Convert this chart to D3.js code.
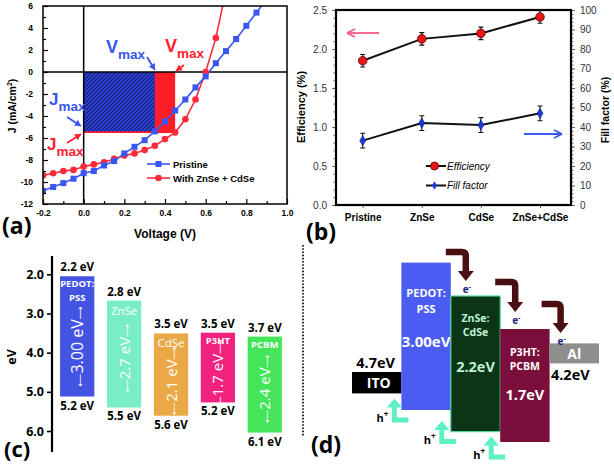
<!DOCTYPE html>
<html><head><meta charset="utf-8">
<script src="https://cdn.jsdelivr.net/npm/d3@7"></script>
<style>body{margin:0;background:#fff}svg{display:block}</style>
</head><body>
<svg id="fig" width="614" height="466"></svg>
<script>
// ---------- Panel (a): J–V curves ----------
const voltsPristine = [-0.2,-0.15,-0.1,-0.05,0,0.05,0.1,0.15,0.2,0.25,0.3,0.35,0.4,0.45,0.5,0.55,0.6,0.65,0.7,0.75,0.8,0.85,0.9];
const jPristine     = [-10.8,-10.45,-10.1,-9.7,-9.2,-9.0,-8.5,-8.1,-7.4,-6.8,-6.2,-5.4,-4.5,-3.5,-2.5,-1.4,-0.4,0.8,1.9,3.0,4.2,5.4,6.6];
const voltsHybrid   = [-0.2,-0.15,-0.1,-0.05,0,0.05,0.1,0.15,0.2,0.25,0.3,0.35,0.4,0.45,0.5,0.55,0.6,0.65,0.7];
const jHybrid       = [-9.4,-9.2,-9.0,-8.9,-8.6,-8.4,-8.2,-7.9,-7.6,-7.4,-7.1,-6.7,-6.1,-5.5,-4.3,-2.5,0.0,3.1,7.4];
const seriesNames   = ["Pristine","With ZnSe + CdSe"];
const vMax = [0.35, 0.45];      // pristine, hybrid
const jMax = [-5.4, -5.55];
const aXTicks = [-0.2,0,0.2,0.4,0.6,0.8,1.0];
const aYTicks = [-12,-10,-8,-6,-4,-2,0,2,4,6];

// ---------- Panel (b): efficiency / fill factor ----------
const devices    = ["Pristine","ZnSe","CdSe","ZnSe+CdSe"];
const efficiency = [1.85,2.13,2.20,2.41];
const effErr     = [0.08,0.08,0.08,0.08];
const fillFactor = [33,42,41,47];
const ffErr      = [3.8,3.8,3.8,3.8];
const bLeftTicks  = [0,0.5,1.0,1.5,2.0,2.5];
const bRightTicks = [0,10,20,30,40,50,60,70,80,90,100];

// ---------- Panel (c): energy levels ----------
const materials   = ["PEDOT:PSS","ZnSe","CdSe","P3HT","PCBM"];
const lumo        = [2.05,2.67,3.51,3.49,3.59];
const homo        = [5.12,5.40,5.61,5.27,6.04];
const lumoLabels  = ["2.2 eV","2.8 eV","3.5 eV","3.5 eV","3.7 eV"];
const homoLabels  = ["5.2 eV","5.5 eV","5.6 eV","5.2 eV","6.1 eV"];
const gapLabels   = ["3.00 eV","2.7 eV","2.1 eV","1.7 eV","2.4 eV"];
const nameLines   = [["PEDOT:","PSS"],["ZnSe"],["CdSe"],["P3HT"],["PCBM"]];
const cTicks      = [2.0,3.0,4.0,5.0,6.0];

// ---------- Panel (d): device band diagram (schematic levels) ----------
const layers      = ["ITO","PEDOT:PSS","ZnSe:CdSe","P3HT:PCBM","Al"];
const layerTop    = [6.1,0.63,2.3,3.95,4.67];
const layerBottom = [7.17,8.0,9.08,9.6,5.67];
const layerNames  = [["ITO"],["PEDOT:","PSS"],["ZnSe:","CdSe"],["P3HT:","PCBM"],["Al"]];
const layerGaps   = ["","3.00eV","2.2eV","1.7eV",""];
const workFns     = ["4.7eV","","","","4.2eV"];
const eArrowStart = [0.1,1.6,2.7];
const eArrowEnd   = [1.55,3.1,4.15];

// ======================================================
const svg = d3.select("#fig");
const ARIAL = "'Liberation Sans', Arial, sans-serif";
const OPEN = "'Open Sans', 'DejaVu Sans', sans-serif";

// ================= Panel (a) =================
(function(){
  const x = d3.scaleLinear().domain([-0.2,1.0]).range([43,287]);
  const y = d3.scaleLinear().domain([-12,6]).range([204,6]);
  const g = svg.append("g");
  const defs = svg.append("defs");
  defs.append("clipPath").attr("id","clipA").append("rect")
    .attr("x",x(-0.2)).attr("y",y(6)).attr("width",x(1)-x(-0.2)).attr("height",y(-12)-y(6));
  const pat = defs.append("pattern").attr("id","hatch").attr("patternUnits","userSpaceOnUse")
    .attr("width",4).attr("height",4);
  pat.append("rect").attr("width",4).attr("height",4).attr("fill","#3048e4");
  pat.append("path").attr("d","M-1,1 l2,-2 M0,4 l4,-4 M3,5 l2,-2").attr("stroke","#141c78").attr("stroke-width",1.3);

  g.append("rect").attr("x",x(0)).attr("y",y(0)).attr("width",x(vMax[1])-x(0)).attr("height",y(jMax[1])-y(0)).attr("fill","#ff1e28");
  g.append("rect").attr("x",x(0)).attr("y",y(0)).attr("width",x(vMax[0])-x(0)).attr("height",y(jMax[0])-y(0)).attr("fill","url(#hatch)");

  g.append("line").attr("x1",x(0)).attr("x2",x(0)).attr("y1",y(6)).attr("y2",y(-12)).attr("stroke","#000").attr("stroke-width",1.5);
  g.append("line").attr("x1",x(-0.2)).attr("x2",x(1)).attr("y1",y(0)).attr("y2",y(0)).attr("stroke","#000").attr("stroke-width",1.5);

  const cg = g.append("g").attr("clip-path","url(#clipA)");
  const line = d3.line().x(d=>x(d[0])).y(d=>y(d[1]));
  const pData = voltsPristine.map((v,i)=>[v,jPristine[i]]);
  const hData = voltsHybrid.map((v,i)=>[v,jHybrid[i]]);
  const blue = "#3a56f0", red = "#ff2a3a";
  cg.append("path").attr("d",line(hData)).attr("fill","none").attr("stroke",red).attr("stroke-width",1.6);
  cg.append("path").attr("d",line(pData)).attr("fill","none").attr("stroke",blue).attr("stroke-width",1.6);
  cg.selectAll(".hc").data(hData).enter().append("circle").attr("cx",d=>x(d[0])).attr("cy",d=>y(d[1])).attr("r",3.3).attr("fill",red);
  cg.selectAll(".pc").data(pData).enter().append("rect").attr("x",d=>x(d[0])-3).attr("y",d=>y(d[1])-3).attr("width",6).attr("height",6).attr("fill",blue);

  g.append("rect").attr("x",x(-0.2)).attr("y",y(6)).attr("width",x(1)-x(-0.2)).attr("height",y(-12)-y(6))
    .attr("fill","none").attr("stroke","#000").attr("stroke-width",1.5);

  const yAx = g.append("g").attr("transform",`translate(${x(-0.2)},0)`)
    .call(d3.axisLeft(y).tickValues(aYTicks).tickSize(-5).tickPadding(10).tickFormat(d3.format("d")));
  const yMin = g.append("g").attr("transform",`translate(${x(-0.2)},0)`)
    .call(d3.axisLeft(y).tickValues(d3.range(-11,6,2)).tickSize(-3).tickFormat(""));
  const xAx = g.append("g").attr("transform",`translate(0,${y(-12)})`)
    .call(d3.axisBottom(x).tickValues(aXTicks).tickSize(-5).tickPadding(6).tickFormat(d3.format(".1f")));
  const xMin = g.append("g").attr("transform",`translate(0,${y(-12)})`)
    .call(d3.axisBottom(x).tickValues([-0.1,0.1,0.3,0.5,0.7,0.9]).tickSize(-3).tickFormat(""));
  [yAx,yMin,xAx,xMin].forEach(a=>{a.select(".domain").remove();a.selectAll("line").attr("stroke","#000").attr("stroke-width",1.2);
    a.selectAll("text").attr("font-family",ARIAL).attr("font-weight","bold").attr("font-size",8.5).attr("fill","#000");});
  yAx.selectAll("text").text(d=>d3.format("d")(d).replace("−","-"));
  xAx.selectAll("text").text(d=>d3.format(".1f")(d).replace("−","-"));

  g.append("text").attr("x",165).attr("y",238).attr("text-anchor","middle").attr("font-family",ARIAL)
    .attr("font-weight","bold").attr("font-size",12).text("Voltage (V)");
  const yt = g.append("text").attr("transform","translate(16,106) rotate(-90)").attr("text-anchor","middle")
    .attr("font-family",ARIAL).attr("font-weight","bold").attr("font-size",10.5);
  yt.append("tspan").text("J (mA/cm");
  yt.append("tspan").attr("font-size",7).attr("dy",-4).text("2");
  yt.append("tspan").attr("dy",4).text(")");

  function sub(tx,ty,big,small,color,bs,ss){
    const t = g.append("text").attr("x",tx).attr("y",ty).attr("font-family",ARIAL).attr("font-weight","bold").attr("fill",color);
    t.append("tspan").attr("font-size",bs).text(big);
    t.append("tspan").attr("font-size",ss).attr("dy",6).text(small);
  }
  sub(106,53,"V","max",blue,18,13.5);
  sub(165,52,"V","max","#ff2030",18,13.5);
  sub(49,105,"J","max",blue,17,13.5);
  sub(47,150,"J","max","#ff2030",17,13.5);
  function arrow(x1,y1,x2,y2,color){
    g.append("line").attr("x1",x1).attr("y1",y1).attr("x2",x2).attr("y2",y2).attr("stroke",color).attr("stroke-width",1.8);
    const a = Math.atan2(y2-y1,x2-x1), L=6, W=3.5;
    const p = [[x2,y2],[x2-L*Math.cos(a)+W*Math.sin(a), y2-L*Math.sin(a)-W*Math.cos(a)],[x2-L*Math.cos(a)-W*Math.sin(a), y2-L*Math.sin(a)+W*Math.cos(a)]];
    g.append("path").attr("d","M"+p.join("L")+"Z").attr("fill",color);
  }
  arrow(147,57,155,70,blue);
  arrow(184,65,176,71,"#ff2030");
  arrow(67,117,81,126,blue);
  arrow(67,143,81,134,"#ff2030");

  const leg = [[blue,"rect"],[red,"circle"]];
  leg.forEach((l,i)=>{
    const ly = 164 + i*14;
    g.append("line").attr("x1",147).attr("x2",170).attr("y1",ly).attr("y2",ly).attr("stroke",l[0]).attr("stroke-width",1.6);
    if(l[1]==="rect") g.append("rect").attr("x",155.5).attr("y",ly-3).attr("width",6).attr("height",6).attr("fill",l[0]);
    else g.append("circle").attr("cx",158.5).attr("cy",ly).attr("r",3.3).attr("fill",l[0]);
    g.append("text").attr("x",173).attr("y",ly+3.5).attr("font-family",ARIAL).attr("font-weight","bold").attr("font-size",9.5).text(seriesNames[i]);
  });
  g.append("text").attr("x",2).attr("y",234).attr("font-family",OPEN).attr("font-weight","bold").attr("font-size",23).text("(a)");
})();

// ================= Panel (b) =================
(function(){
  const x = d3.scalePoint().domain(devices).range([362.7,540]);
  const yL = d3.scaleLinear().domain([0,2.5]).range([205,10]);
  const yR = d3.scaleLinear().domain([0,100]).range([205,10]);
  const g = svg.append("g");
  const X0=336, X1=571;
  const la = g.append("g").attr("transform",`translate(${X0},0)`).call(d3.axisLeft(yL).tickValues(bLeftTicks).tickSize(4).tickPadding(5).tickFormat(d3.format(".1f")));
  const lm = g.append("g").attr("transform",`translate(${X0},0)`).call(d3.axisLeft(yL).tickValues(d3.range(0,2.5,0.1)).tickSize(2.5).tickFormat(""));
  const ra = g.append("g").attr("transform",`translate(${X1},0)`).call(d3.axisRight(yR).tickValues(bRightTicks).tickSize(4).tickPadding(5).tickFormat(d3.format("d")));
  const rm = g.append("g").attr("transform",`translate(${X1},0)`).call(d3.axisRight(yR).tickValues(d3.range(0,100,2)).tickSize(2.5).tickFormat(""));
  const ba = g.append("g").attr("transform",`translate(0,205)`).call(d3.axisBottom(x).tickSize(3).tickPadding(6));
  [la,lm,ra,rm,ba].forEach(a=>{a.select(".domain").remove();a.selectAll("line").attr("stroke","#666").attr("stroke-width",1);
    a.selectAll("text").attr("font-family",ARIAL).attr("font-size",10).attr("fill","#333");});
  ba.selectAll("text").attr("font-weight","bold").attr("fill","#000");
  g.append("rect").attr("x",X0).attr("y",10).attr("width",X1-X0).attr("height",195).attr("fill","none").attr("stroke","#000").attr("stroke-width",2.2);

  const line = d3.line();
  const eff = devices.map((d,i)=>[x(d),yL(efficiency[i])]);
  const ff  = devices.map((d,i)=>[x(d),yR(fillFactor[i])]);
  g.append("path").attr("d",line(eff)).attr("fill","none").attr("stroke","#111").attr("stroke-width",2);
  g.append("path").attr("d",line(ff)).attr("fill","none").attr("stroke","#111").attr("stroke-width",2);
  function errbars(vals,errs,scale){
    devices.forEach((d,i)=>{
      const cx=x(d), t=scale(vals[i]+errs[i]), b=scale(vals[i]-errs[i]);
      g.append("path").attr("d",`M${cx},${t}V${b}M${cx-2.5},${t}H${cx+2.5}M${cx-2.5},${b}H${cx+2.5}`).attr("stroke","#111").attr("stroke-width",1.1).attr("fill","none");
    });
  }
  errbars(efficiency,effErr,yL);
  errbars(fillFactor,ffErr,yR);
  g.selectAll(".ec").data(eff).enter().append("circle").attr("cx",d=>d[0]).attr("cy",d=>d[1]).attr("r",4.3).attr("fill","#e81818").attr("stroke","#5a0000").attr("stroke-width",0.8);
  const dia = d3.symbol().type(d3.symbolDiamond).size(30);
  g.selectAll(".fd").data(ff).enter().append("path").attr("d",dia).attr("transform",d=>`translate(${d[0]},${d[1]})`).attr("fill","#1a3ae0").attr("stroke","#0a1a70").attr("stroke-width",0.6);

  function harrow(x1,x2,yy,color){
    g.append("line").attr("x1",x1).attr("x2",x2).attr("y1",yy).attr("y2",yy).attr("stroke",color).attr("stroke-width",1.8);
    const s = Math.sign(x2-x1);
    g.append("path").attr("d",`M${x2+s*1},${yy}L${x2-s*7},${yy-4}M${x2+s*1},${yy}L${x2-s*7},${yy+4}`).attr("stroke",color).attr("stroke-width",1.8).attr("fill","none");
  }
  harrow(379,348,33,"#ff5a84");
  harrow(524,561,134,"#3a5af0");

  [["Efficiency","c"],["Fill factor","d"]].forEach((l,i)=>{
    const ly = 166 + i*19.5;
    g.append("line").attr("x1",426).attr("x2",446).attr("y1",ly).attr("y2",ly).attr("stroke","#111").attr("stroke-width",2);
    if(l[1]==="c") g.append("circle").attr("cx",434.5).attr("cy",ly).attr("r",4).attr("fill","#e81818").attr("stroke","#5a0000").attr("stroke-width",0.8);
    else g.append("path").attr("d",d3.symbol().type(d3.symbolDiamond).size(22)).attr("transform",`translate(434.5,${ly})`).attr("fill","#1a3ae0");
    g.append("text").attr("x",447).attr("y",ly+3.5).attr("font-family",ARIAL).attr("font-style","italic").attr("font-size",10).text(l[0]);
  });

  g.append("text").attr("transform","translate(305,107) rotate(-90)").attr("text-anchor","middle").attr("font-family",ARIAL)
    .attr("font-weight","bold").attr("font-size",11).text("Efficiency (%)");
  g.append("text").attr("transform","translate(609,110) rotate(-90)").attr("text-anchor","middle").attr("font-family",ARIAL)
    .attr("font-weight","bold").attr("font-size",10.5).text("Fill factor (%)");
  g.append("text").attr("x",306).attr("y",240).attr("font-family",OPEN).attr("font-weight","bold").attr("font-size",23).text("(b)");
})();

// ================= Panel (c) =================
(function(){
  const y = d3.scaleLinear().domain([2,6]).range([274.3,431]);
  const x = d3.scaleBand().domain(materials).range([54,288]).paddingInner(0.27).paddingOuter(0.13);
  const colors = ["#4353e2","#78edc6","#eaa846","#f2227f","#44e558"];
  const gapShift = [10,4,6,7.5,4];
  const g = svg.append("g");
  g.append("line").attr("x1",52).attr("x2",52).attr("y1",256).attr("y2",452).attr("stroke","#000").attr("stroke-width",2.2);
  const ax = g.append("g").attr("transform","translate(52,0)").call(d3.axisLeft(y).tickValues(cTicks).tickSize(5).tickPadding(3).tickFormat(d3.format(".1f")));
  ax.select(".domain").remove();
  ax.selectAll("line").attr("stroke","#000").attr("stroke-width",1.6);
  ax.selectAll("text").attr("font-family",OPEN).attr("font-weight","bold").attr("font-size",12.5).attr("fill","#000");
  g.append("text").attr("transform","translate(16,357) rotate(-90)").attr("text-anchor","middle").attr("font-family",OPEN)
    .attr("font-weight","bold").attr("font-size",12.5).text("eV");

  const bw = x.bandwidth();
  materials.forEach((m,i)=>{
    const x0 = x(m), cx = x0 + bw/2, t = y(lumo[i]), b = y(homo[i]);
    g.append("rect").attr("x",x0).attr("y",t).attr("width",bw).attr("height",b-t).attr("fill",colors[i]);
    g.append("text").attr("x",cx).attr("y",t-5).attr("text-anchor","middle").attr("font-family",OPEN).attr("font-weight","bold").attr("font-size",11.5).text(lumoLabels[i]);
    g.append("text").attr("x",cx).attr("y",b+13).attr("text-anchor","middle").attr("font-family",OPEN).attr("font-weight","bold").attr("font-size",11.5).text(homoLabels[i]);
    const big = nameLines[i][0]==="ZnSe"||nameLines[i][0]==="CdSe";
    nameLines[i].forEach((s,k)=>{
      g.append("text").attr("x",cx).attr("y",t+(big?14:11)+k*14).attr("text-anchor","middle").attr("font-family",OPEN)
        .attr("font-weight",big?"normal":"bold").attr("font-size",big?11.5:9.5).attr("fill","#fff").text(s);
    });
    const mid = (t + b)/2 + gapShift[i];
    const tt = g.append("text").attr("transform",`translate(${cx+5.5},${mid}) rotate(-90)`).attr("text-anchor","middle")
      .attr("font-family",OPEN).attr("font-size",i===0?16:15).attr("fill","#fff");
    tt.append("tspan").attr("font-family","'DejaVu Sans'").attr("font-size",9).text("⟵");
    tt.append("tspan").text(gapLabels[i]);
    tt.append("tspan").attr("font-family","'DejaVu Sans'").attr("font-size",9).text("⟶");
  });
  g.append("text").attr("x",4).attr("y",457).attr("font-family",OPEN).attr("font-weight","bold").attr("font-size",22).text("(c)");
  svg.append("line").attr("x1",303).attr("x2",303).attr("y1",245).attr("y2",437).attr("stroke","#000").attr("stroke-width",1.6).attr("stroke-dasharray","1.6,1.6");
})();

// ================= Panel (d) =================
(function(){
  const x = d3.scaleBand().domain(layers).range([352,599]);
  const y = d3.scaleLinear().domain([0,10]).range([250,450]);
  const fills   = ["#000000","#4b5cf2","#0c3518","#7a0f3c","#8e8e8e"];
  const strokes = ["none","none","#4fd6a0","none","none"];
  const textCol = ["#fff","#fff","#bff3d6","#fff","#fff"];
  const nameOff = [0,34,26,27,0];
  const lineGap = [0,16,13.5,13.5,0];
  const gapOff  = [0,84,76,71,0];
  const g = svg.append("g");
  const bw = x.bandwidth();
  layers.forEach((l,i)=>{
    const x0=x(l), cx=x0+bw/2, t=y(layerTop[i]), b=y(layerBottom[i]);
    g.append("rect").attr("x",x0).attr("y",t).attr("width",bw).attr("height",b-t).attr("fill",fills[i])
      .attr("stroke",strokes[i]).attr("stroke-width",1.2);
    const single = layerNames[i].length===1;
    if(single){
      g.append("text").attr("x",cx+(i===0?2:0)).attr("y",(t+b)/2+5.3).attr("text-anchor","middle").attr("font-family",OPEN)
        .attr("font-weight","bold").attr("font-size",14).attr("fill",textCol[i]).text(layerNames[i][0]);
    } else {
      layerNames[i].forEach((s,k)=>{
        g.append("text").attr("x",cx).attr("y",t+nameOff[i]+k*lineGap[i]).attr("text-anchor","middle").attr("font-family",OPEN)
          .attr("font-weight","bold").attr("font-size",i===1?11:10.5).attr("fill",textCol[i]).text(s);
      });
      g.append("text").attr("x",cx).attr("y",t+gapOff[i]).attr("text-anchor","middle").attr("font-family",OPEN)
        .attr("font-weight","bold").attr("font-size",i===1?15:14.5).attr("fill",textCol[i]).text(layerGaps[i]);
    }
    if(workFns[i]){
      const above = i===0;
      g.append("text").attr("x",i===0?cx-1:cx-4).attr("y",above?t-4:b+17).attr("text-anchor","middle").attr("font-family",OPEN)
        .attr("font-weight","bold").attr("font-size",14.5).attr("fill","#000").text(workFns[i]);
    }
  });
  eArrowStart.forEach((s,k)=>{
    const nx = x(layers[k+2]);
    const xs = nx-5 - (k===2?3:0), xt = nx+15 - (k===2?4:0), ys = y(s), yt = y(eArrowEnd[k]);
    g.append("path").attr("d",`M${xs},${ys}H${xt-4}Q${xt},${ys} ${xt},${ys+4}V${yt-9}`).attr("fill","none").attr("stroke","#4a0f10").attr("stroke-width",6.5);
    g.append("path").attr("d",`M${xt-8},${yt-10}L${xt+8},${yt-10}L${xt},${yt}Z`).attr("fill","#4a0f10");
    const e = g.append("text").attr("x",xt-3).attr("y",yt+12).attr("font-family",OPEN).attr("font-weight","bold").attr("font-size",10).attr("fill","#1a2a80");
    e.append("tspan").text("e");
    e.append("tspan").attr("dy",-4).attr("font-size",7).text("-");
  });
  [0,1,2].forEach(k=>{
    const xv = x(layers[k+1]) - 7 + (k===0?0:-2);
    const top = y(layerBottom[k]) + (k===1?11:5), foot = y(layerBottom[k+1]) + (k===2?15:10);
    g.append("path").attr("d",`M${xv},${top+8}V${foot}H${xv+14}`).attr("fill","none").attr("stroke","#5cf0c4").attr("stroke-width",5);
    g.append("path").attr("d",`M${xv-7.5},${top+9}L${xv+7.5},${top+9}L${xv},${top}Z`).attr("fill","#5cf0c4");
    const h = g.append("text").attr("x",xv-18).attr("y",foot+2).attr("font-family",OPEN).attr("font-weight","bold").attr("font-size",11).attr("fill","#000");
    h.append("tspan").text("h");
    h.append("tspan").attr("dy",-5).attr("font-size",8).text("+");
  });
  g.append("text").attr("x",311).attr("y",453).attr("font-family",OPEN).attr("font-weight","bold").attr("font-size",23).text("(d)");
})();
</script>
</body></html>
